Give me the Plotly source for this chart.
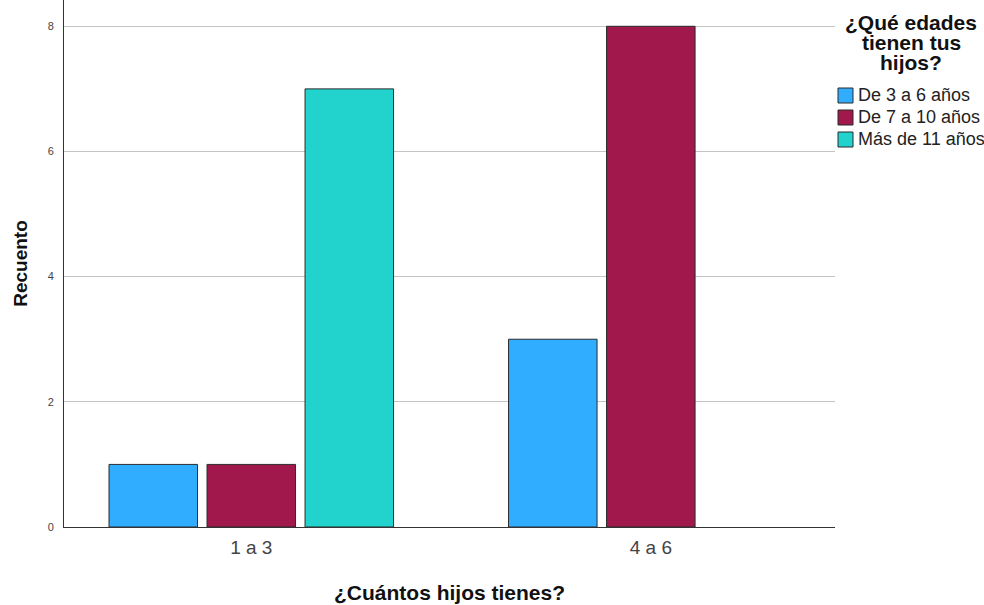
import plotly.graph_objects as go

categories = ["1 a 3", "4 a 6"]
series_names = ["De 3 a 6 años", "De 7 a 10 años", "Más de 11 años"]
vals_3_6 = [1, 3]
vals_7_10 = [1, 8]
vals_11 = [7, None]
colors = ["#30adfe", "#a0184c", "#22d3cd"]
y_ticks = [0, 2, 4, 6, 8]
legend_title_lines = ["¿Qué edades", "tienen tus", "hijos?"]

fig = go.Figure()
for name, vals, col in zip(series_names, [vals_3_6, vals_7_10, vals_11], colors):
    fig.add_trace(go.Bar(
        x=categories, y=vals, name=name,
        marker=dict(color=col, line=dict(color="#2b2b2b", width=1)),
        showlegend=False,
    ))

font = "Liberation Sans, Arial, sans-serif"
W, H = 984, 605
L, R, T, B = 64, 149, 0, 78
plot_w = W - L - R
plot_h = H - T - B


def px(fx):
    return (fx - L) / plot_w


def py(fy):
    return 1 - (fy - T) / plot_h


annots = []
for i, line in enumerate(legend_title_lines):
    fy = 22 + i * 20.5
    annots.append(dict(
        text="<b>" + line + "</b>",
        xref="paper", yref="paper", x=px(911), y=py(fy),
        xanchor="center", yanchor="middle",
        showarrow=False, align="center",
        font=dict(size=21, color="#111111", family=font),
    ))

shapes = []
for i, (name, col) in enumerate(zip(series_names, colors)):
    cy = 95.5 + i * 22
    shapes.append(dict(
        type="rect", xref="paper", yref="paper",
        x0=px(838), x1=px(853), y0=py(cy - 7.5), y1=py(cy + 7.5),
        fillcolor=col, line=dict(color="#2b2b2b", width=1),
    ))
    annots.append(dict(
        text=name, xref="paper", yref="paper", x=px(856), y=py(cy),
        xanchor="left", yanchor="middle", showarrow=False,
        font=dict(size=18, color="#222222", family=font),
    ))

fig.update_layout(
    width=W, height=H,
    margin=dict(l=L, r=R, t=T, b=B),
    paper_bgcolor="white", plot_bgcolor="white",
    barmode="group", bargap=0.264, bargroupgap=0.097,
    font=dict(family=font, color="#333333"),
    showlegend=False,
    xaxis=dict(
        type="category", range=[-0.46875, 1.461],
        showline=True, linecolor="#333333", linewidth=1,
        ticks="", tickfont=dict(size=19, color="#444444"), ticklabelstandoff=3,
        title=dict(text="<b>¿Cuántos hijos tienes?</b>", font=dict(size=21, color="#111111"), standoff=28),
        showgrid=False, zeroline=False,
    ),
    yaxis=dict(
        range=[0, 8.42], tickvals=y_ticks,
        showline=True, linecolor="#333333", linewidth=1,
        ticks="", tickfont=dict(size=11, color="#444444"), ticklabelstandoff=7,
        showgrid=True, gridcolor="#c4c4c4", gridwidth=1, zeroline=False,
        title=dict(text="<b>Recuento</b>", font=dict(size=19, color="#111111"), standoff=15),
    ),
    annotations=annots,
    shapes=shapes,
)

fig.write_html(
    "out.html",
    config={"displayModeBar": False},
    post_script="document.body.style.margin='0';document.body.style.overflow='hidden';",
)
